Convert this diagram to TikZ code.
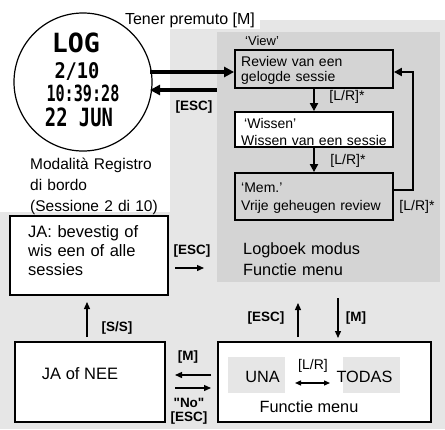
\documentclass[tikz,border=0pt]{standalone}
\usepackage{fontspec}
\setmainfont{Liberation Sans}
\newfontfamily\labelsans{Liberation Sans}
\newfontfamily\lcdfont{DejaVu Sans Mono}
\usetikzlibrary{arrows.meta}
\definecolor{lg}{RGB}{230,230,230}
\definecolor{dg}{RGB}{212,212,212}
\begin{document}
\begin{tikzpicture}[x=1pt,y=-1pt,
  box/.style={draw=black,line width=1.8pt,inner sep=0pt,rectangle},
  plain/.style={inner sep=0pt,align=left,font=\fontsize{#1}{#1}\selectfont},
  btxt/.style={inner sep=0pt,anchor=base west,align=left,text width=150pt},
  lbl/.style={inner sep=0pt,font=\labelsans\fontsize{13.5}{14}\selectfont\bfseries},
  lr/.style={inner sep=0pt,font=\fontsize{14}{15}\selectfont},
  lcd/.style={inner sep=0pt,font=\lcdfont\bfseries},
  bigarrow/.style={line width=3.4pt,-{Triangle[length=10pt,width=10pt]}},
  midarrow/.style={line width=2pt,-{Triangle[length=8pt,width=8pt]}},
  smallarrow/.style={line width=1.3pt,-{Triangle[length=7pt,width=6pt]}},
  dblarrow/.style={line width=1.3pt,{Triangle[length=6pt,width=5pt]}-{Triangle[length=6pt,width=5pt]}}]
\useasboundingbox (0,0) rectangle (445,429);
% background
\fill[lg] (0,0) rectangle (445,429);
\fill[white] (0,0) rectangle (445,20);
\fill[white] (0,0) rectangle (170,212);
\fill[white] (120,0) rectangle (260,29);
\node[fill=dg,inner sep=0pt,minimum width=223pt,minimum height=250pt] (panel) at (328.5,157) {};
% title
\node[plain=16,anchor=base] (title) at (190,24) {Tener premuto [M]};
% watch
\node[circle,draw=black,line width=1.2pt,fill=white,minimum size=138pt,inner sep=0pt] (watch) at (83,82) {};
\node[lcd] (l1) at (76,43) {\resizebox*{48pt}{20pt}{LOG}};
\node[lcd] (l2) at (77,71.5) {\resizebox*{45pt}{18pt}{2/10}};
\node[lcd] (l3) at (83,93) {\resizebox*{73pt}{17pt}{10:39:28}};
\node[lcd] (l4) at (79,117) {\resizebox*{68pt}{19pt}{22 JUN}};
\node[btxt,font=\fontsize{15.5}{21}\selectfont] (modal) at (30,169) {Modalità Registro\\di bordo\\(Sessione 2 di 10)};
% panel contents
\node[box,minimum width=158pt,minimum height=38pt] (view) at (314,69) {};
\node[box,fill=white,minimum width=158pt,minimum height=35pt] (wissen) at (314,129.5) {};
\node[box,minimum width=158pt,minimum height=47pt] (mem) at (314,196.5) {};
\node[btxt,font=\fontsize{13}{14}\selectfont] (viewlbl) at (245,45) {‘View’};
\node[btxt,font=\fontsize{14}{15.5}\selectfont] (viewtxt) at (241,66) {Review van een\\gelogde sessie};
\node[btxt,font=\fontsize{14}{17}\selectfont] (wissentxt) at (241,128) {\hspace*{3pt}‘Wissen’\\Wissen van een sessie};
\node[btxt,font=\fontsize{14}{18}\selectfont] (memtxt) at (241,192) {‘Mem.’\\Vrije geheugen review};
\node[btxt,font=\fontsize{16.3}{21}\selectfont] (logtxt) at (243,254) {Logboek modus\\Functie menu};
\node[lr] (lr1) at (347,97) {[L/R]*};
\node[lr] (lr2) at (348,161) {[L/R]*};
\node[lr] (lr3) at (417,207) {[L/R]*};
\draw[midarrow] (view.south) -- (wissen.north);
\draw[midarrow] (wissen.south) -- (mem.north);
\coordinate (lp1) at (413,190);
\coordinate (lp2) at (413,72);
\draw[midarrow] (mem.east |- lp1) -- (lp1) |- (view.east |- lp2);
% watch <-> panel
\coordinate (a1s) at (150,72);
\coordinate (a2e) at (150,90);
\draw[bigarrow] (a1s) -- (view.west |- a1s);
\draw[bigarrow] (panel.west |- a2e) -- (a2e);
\node[lbl] (esc1) at (194,107) {[ESC]};
% JA box
\node[box,fill=white,minimum width=158pt,minimum height=79pt] (ja) at (89,255.5) {};
\node[btxt,font=\fontsize{16.5}{19}\selectfont] (jatxt) at (28,237) {JA: bevestig of\\wis een of alle\\sessies};
\node[lbl] (esc2) at (192,251) {[ESC]};
\coordinate (e1s) at (175,268);
\coordinate (e1e) at (204,268);
\draw[smallarrow] (e1s) -- (e1e);
% JA of NEE
\node[box,fill=white,minimum width=150pt,minimum height=80pt] (janee) at (90,382) {};
\node[plain=16.5] (janeetxt) at (80,374) {JA of NEE};
\coordinate (s1) at (87,337);
\coordinate (s2) at (87,302);
\draw[smallarrow] (s1) -- (s2);
\node[lbl] (ss) at (117,328) {[S/S]};
% Functie menu box
\node[box,fill=white,minimum width=213pt,minimum height=80pt] (func) at (324.5,382) {};
\node[fill=lg,inner sep=0pt,minimum width=57pt,minimum height=36pt] (una) at (256.5,375) {};
\node[fill=lg,inner sep=0pt,minimum width=57pt,minimum height=36pt] (todas) at (371.5,375) {};
\node[plain=16.3] (unatxt) at (262.5,377) {UNA};
\node[plain=16.3] (todastxt) at (364.5,377) {TODAS};
\node[plain=14] (lr4) at (313,366) {[L/R]};
\coordinate (d1) at (295,383);
\coordinate (d2) at (330,383);
\draw[dblarrow] (d1) -- (d2);
\node[plain=16.3] (functxt) at (309,406.5) {Functie menu};
% arrows JA of NEE <-> func
\coordinate (m1s) at (211,375);
\coordinate (m1e) at (175,375);
\coordinate (n1s) at (175,388);
\coordinate (n1e) at (211,388);
\draw[smallarrow] (m1s) -- (m1e);
\draw[smallarrow] (n1s) -- (n1e);
\node[lbl] (m1) at (188,357) {[M]};
\node[lbl] (no) at (189,402.5) {"No"};
\node[lbl] (esc3) at (189,418) {[ESC]};
% arrows func <-> panel
\coordinate (u1) at (298,337);
\coordinate (u2) at (298,303);
\coordinate (v1) at (338,298);
\coordinate (v2) at (338,338);
\draw[smallarrow] (u1) -- (u2);
\draw[smallarrow] (v1) -- (v2);
\node[lbl] (esc4) at (266,318) {[ESC]};
\node[lbl] (m2) at (356,318) {[M]};
\end{tikzpicture}
\end{document}
